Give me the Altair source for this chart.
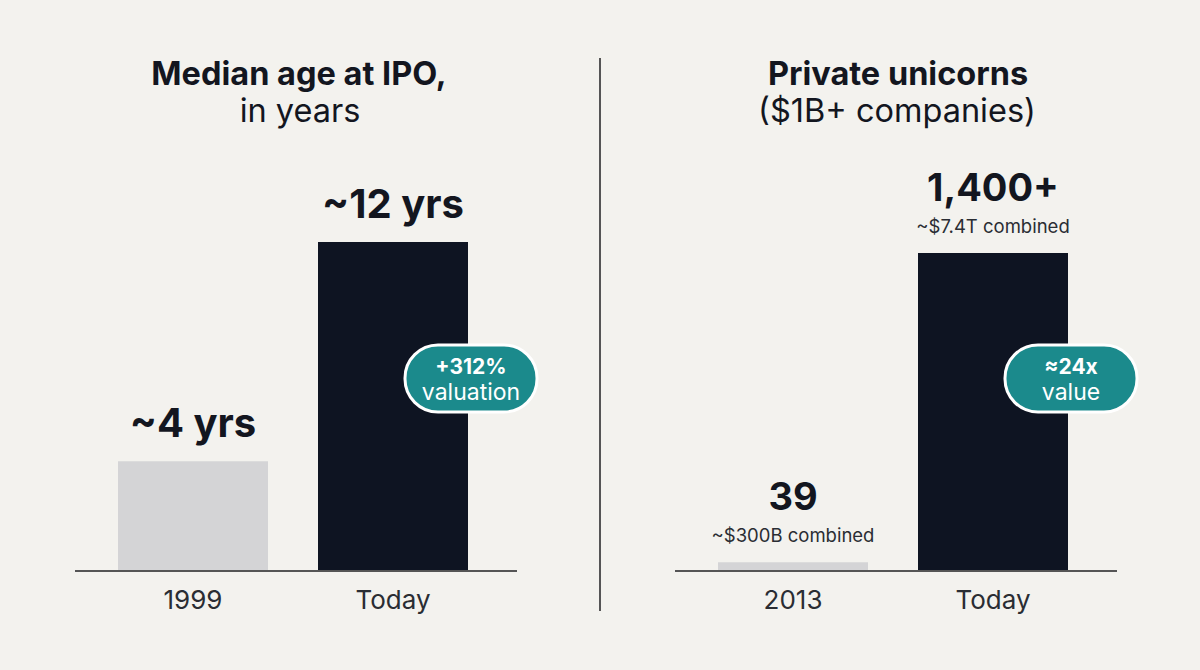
import altair as alt
import pandas as pd

# ---- data ----
left_cats = ["L1999", "LToday"]
left_labels = ["1999", "Today"]
left_values = [4, 12]
left_text = ["~4 yrs", "~12 yrs"]

right_cats = ["R2013", "RToday"]
right_labels = ["2013", "Today"]
right_values = [39, 1400]
right_big = ["39", "1,400+"]
right_small = ["~$300B combined", "~$7.4T combined"]

bar_colors = ["#d4d4d6", "#0e1422"]

badge_top = ["+312%", "≈24x"]
badge_bottom = ["valuation", "value"]

x_domain = ["L1999", "LToday", "gap", "R2013", "RToday"]

FONT = "Inter"
DARK = "#13161f"
TEAL = "#1b8a8c"

left_df = pd.DataFrame({"cat": left_cats, "label": left_labels, "value": left_values,
                        "text": left_text, "color": bar_colors})
right_df = pd.DataFrame({"cat": right_cats, "label": right_labels, "value": right_values,
                         "big": right_big, "small": right_small, "color": bar_colors})
one = pd.DataFrame({"a": [0]})

xs = alt.Scale(domain=x_domain, paddingInner=0.25, paddingOuter=0.625, align=0.472)
X = alt.X("cat:N", scale=xs, axis=None)

yl = alt.Y("value:Q", scale=alt.Scale(domain=[-3.611, 20.827], nice=False, zero=False), axis=None)
yr = alt.Y("value:Q", scale=alt.Scale(domain=[-435.85, 2513.85], nice=False, zero=False), axis=None)

# left panel
bars_l = alt.Chart(left_df).mark_bar().encode(
    x=X, y=yl, y2=alt.Y2(datum=0), color=alt.Color("color:N", scale=None))
txt_l = alt.Chart(left_df).mark_text(font=FONT, fontSize=40, fontWeight="bold", color=DARK,
                                     dy=-36, baseline="middle").encode(x=X, y=yl, text="text:N")
cat_l = alt.Chart(left_df).mark_text(font=FONT, fontSize=26, color="#2a2d33",
                                     baseline="middle").encode(x=X, y=alt.value(601), text="label:N")

# right panel
bars_r = alt.Chart(right_df).mark_bar().encode(
    x=X, y=yr, y2=alt.Y2(datum=0), color=alt.Color("color:N", scale=None))
big_r = alt.Chart(right_df).mark_text(font=FONT, fontSize=38, fontWeight="bold", color=DARK,
                                      dy=-63, baseline="middle").encode(x=X, y=yr, text="big:N")
small_r = alt.Chart(right_df).mark_text(font=FONT, fontSize=18.5, color="#2a2d33",
                                        dy=-26, baseline="middle").encode(x=X, y=yr, text="small:N")
cat_r = alt.Chart(right_df).mark_text(font=FONT, fontSize=26, color="#2a2d33",
                                      baseline="middle").encode(x=X, y=alt.value(601), text="label:N")

# baselines and separator
base_l = alt.Chart(one).mark_rule(color="#555555", strokeWidth=2).encode(
    x=alt.value(75), x2=alt.value(517), y=alt.value(571))
base_r = alt.Chart(one).mark_rule(color="#555555", strokeWidth=2).encode(
    x=alt.value(675), x2=alt.value(1117), y=alt.value(571))
sep = alt.Chart(one).mark_rule(color="#555555", strokeWidth=2).encode(
    x=alt.value(600), y=alt.value(58), y2=alt.value(611))

# titles
def title_text(s, x, y, weight):
    return alt.Chart(one).mark_text(font=FONT, fontSize=32.5, fontWeight=weight, color=DARK,
                                    baseline="middle", align="center").encode(
        x=alt.value(x), y=alt.value(y), text=alt.value(s))

titles = [
    title_text("Median age at IPO,", 299, 75, "bold"),
    title_text("in years", 300, 112, "normal"),
    title_text("Private unicorns", 898, 75, "bold"),
    title_text("($1B+ companies)", 897, 112, "normal"),
]

# badges
def badge(cx, top, bottom):
    rect = alt.Chart(one).mark_rect(cornerRadius=33, fill=TEAL, stroke="white", strokeWidth=3).encode(
        x=alt.value(cx - 66), x2=alt.value(cx + 66), y=alt.value(345), y2=alt.value(412))
    t1 = alt.Chart(one).mark_text(font=FONT, fontSize=21, fontWeight="bold", color="white",
                                  baseline="middle").encode(x=alt.value(cx), y=alt.value(368), text=alt.value(top))
    t2 = alt.Chart(one).mark_text(font=FONT, fontSize=23, color="white",
                                  baseline="middle").encode(x=alt.value(cx), y=alt.value(393), text=alt.value(bottom))
    return [rect, t1, t2]

left = alt.layer(bars_l, txt_l, cat_l, base_l)
right = alt.layer(bars_r, big_r, small_r, cat_r, base_r)

chart = alt.layer(
    left, right, sep, *titles,
    *badge(471, badge_top[0], badge_bottom[0]),
    *badge(1071, badge_top[1], badge_bottom[1]),
).resolve_scale(y="independent").properties(
    width=1200, height=670,
    autosize=alt.AutoSizeParams(type="none"),
    padding=0,
    background="#f3f2ee",
).configure_view(strokeWidth=0)

chart.save("out.html", embed_options={"renderer": "svg", "actions": False})
